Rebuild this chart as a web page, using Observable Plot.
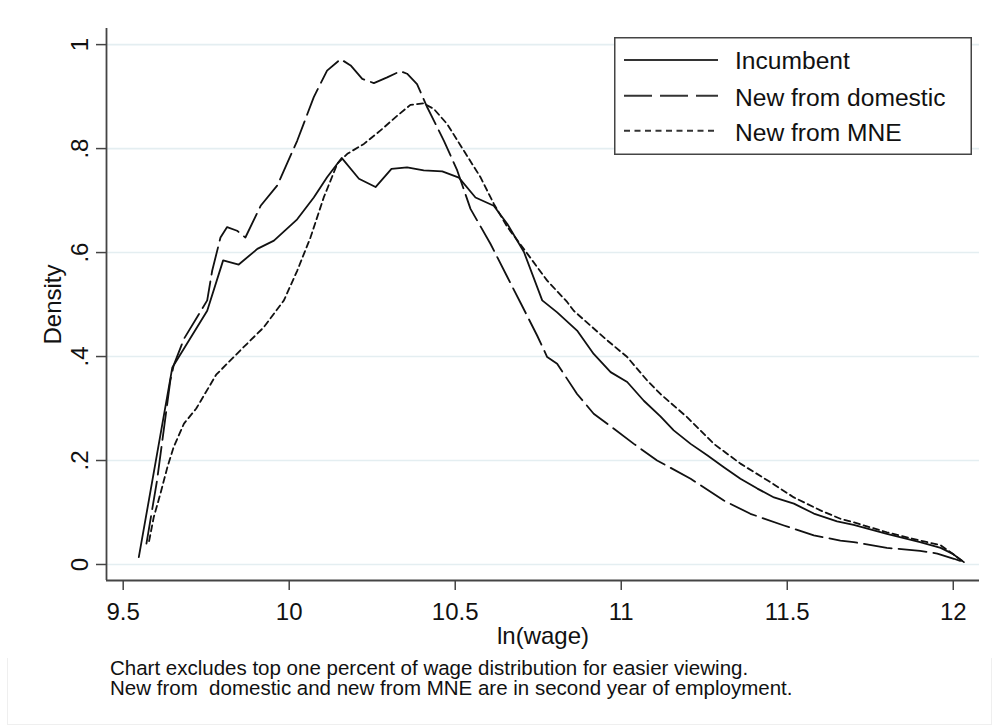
<!DOCTYPE html>
<html>
<head>
<meta charset="utf-8">
<script src="https://cdn.jsdelivr.net/npm/d3@7"></script>
<script src="https://cdn.jsdelivr.net/npm/@observablehq/plot@0.6"></script>
<style>
  body { margin: 0; background: #fff; font-family: "Liberation Sans", Arial, sans-serif; }
  #wrap { position: relative; width: 994px; height: 727px; overflow: hidden; background: #fff; }
  #border { position: absolute; left: 7px; top: 2px; width: 985px; height: 723px; border: 1px solid #efefef; box-sizing: border-box; }
  #chart { position: absolute; left: 0; top: 0; }
  #legend { position: absolute; left: 614px; top: 37px; }
  #caption { position: absolute; left: 110px; top: 658px; font-size: 20.5px; line-height: 20px; color: #111; white-space: pre; }
</style>
</head>
<body>
<div id="wrap">
  <div id="border"></div>
  <div id="chart"></div>
  <div id="legend"></div>
  <div id="caption"></div>
</div>
<script>
// ---- data ----
const incX = [9.547, 9.648, 9.753, 9.801, 9.848, 9.904, 9.954, 10.024, 10.074, 10.114, 10.158, 10.21, 10.26, 10.308, 10.355, 10.405, 10.461, 10.511, 10.561, 10.616, 10.657, 10.707, 10.762, 10.807, 10.867, 10.917, 10.968, 11.018, 11.068, 11.118, 11.158, 11.209, 11.259, 11.309, 11.359, 11.41, 11.46, 11.52, 11.58, 11.65, 11.70, 11.80, 11.90, 11.962, 11.997, 12.032];
const incY = [0.014, 0.379, 0.488, 0.585, 0.577, 0.607, 0.623, 0.664, 0.706, 0.745, 0.782, 0.742, 0.726, 0.761, 0.764, 0.758, 0.756, 0.744, 0.706, 0.690, 0.655, 0.601, 0.508, 0.485, 0.450, 0.405, 0.370, 0.351, 0.315, 0.285, 0.258, 0.232, 0.210, 0.187, 0.165, 0.146, 0.129, 0.117, 0.098, 0.083, 0.076, 0.059, 0.043, 0.032, 0.021, 0.0045];

const domX = [9.570, 9.602, 9.642, 9.652, 9.683, 9.753, 9.768, 9.793, 9.813, 9.843, 9.868, 9.914, 9.964, 10.024, 10.074, 10.114, 10.155, 10.185, 10.220, 10.255, 10.295, 10.335, 10.355, 10.385, 10.416, 10.466, 10.506, 10.546, 10.606, 10.657, 10.697, 10.747, 10.777, 10.807, 10.867, 10.917, 10.978, 11.038, 11.108, 11.209, 11.309, 11.389, 11.49, 11.58, 11.66, 11.70, 11.80, 11.90, 11.952, 12.002, 12.032];
const domY = [0.040, 0.162, 0.354, 0.383, 0.434, 0.508, 0.565, 0.629, 0.649, 0.642, 0.629, 0.690, 0.729, 0.815, 0.899, 0.950, 0.972, 0.960, 0.934, 0.926, 0.937, 0.949, 0.944, 0.924, 0.879, 0.815, 0.758, 0.684, 0.617, 0.553, 0.503, 0.440, 0.399, 0.386, 0.328, 0.290, 0.261, 0.232, 0.200, 0.165, 0.123, 0.0975, 0.075, 0.056, 0.046, 0.043, 0.032, 0.026, 0.021, 0.011, 0.0045];

const mneX = [9.578, 9.592, 9.612, 9.633, 9.652, 9.683, 9.72, 9.78, 9.853, 9.923, 9.984, 10.024, 10.064, 10.104, 10.145, 10.175, 10.225, 10.275, 10.325, 10.365, 10.405, 10.436, 10.476, 10.516, 10.576, 10.616, 10.657, 10.717, 10.777, 10.837, 10.857, 10.958, 11.018, 11.078, 11.118, 11.199, 11.279, 11.359, 11.44, 11.52, 11.60, 11.66, 11.70, 11.80, 11.90, 11.962, 11.997, 12.032];
const mneY = [0.045, 0.091, 0.136, 0.187, 0.226, 0.271, 0.300, 0.365, 0.412, 0.456, 0.508, 0.565, 0.629, 0.706, 0.771, 0.790, 0.809, 0.835, 0.863, 0.884, 0.887, 0.876, 0.847, 0.806, 0.745, 0.694, 0.649, 0.598, 0.546, 0.505, 0.488, 0.431, 0.399, 0.354, 0.328, 0.283, 0.232, 0.194, 0.162, 0.129, 0.104, 0.088, 0.081, 0.062, 0.046, 0.037, 0.021, 0.0045];

const seriesNames = ["Incumbent", "New from domestic", "New from MNE"];
const xTicks = [9.5, 10, 10.5, 11, 11.5, 12];
const xTickLabels = ["9.5", "10", "10.5", "11", "11.5", "12"];
const yTicks = [0, 0.2, 0.4, 0.6, 0.8, 1];
const yTickLabels = ["0", ".2", ".4", ".6", ".8", "1"];
const xTitle = "ln(wage)";
const yTitle = "Density";
const captionLines = [
  "Chart excludes top one percent of wage distribution for easier viewing.",
  "New from  domestic and new from MNE are in second year of employment."
];

const xDomain = [9.4497, 12.079];
const yDomain = [-0.0308, 1.031];

const rows = (xs, ys) => xs.map((x, i) => ({x, y: ys[i]}));
const inc = rows(incX, incY);
const dom = rows(domX, domY);
const mne = rows(mneX, mneY);

const ink = "#111";
const dashes = ["none", "28,7", "6,4"];

const chart = Plot.plot({
  width: 994,
  height: 658,
  marginLeft: 106,
  marginRight: 15,
  marginTop: 28,
  marginBottom: 78,
  style: {fontFamily: "Liberation Sans, Arial, sans-serif", background: "white", color: ink, overflow: "visible"},
  x: {domain: xDomain},
  y: {domain: yDomain},
  marks: [
    Plot.gridY(yTicks, {stroke: "#e4eef1", strokeOpacity: 1, strokeWidth: 1.6}),
    Plot.ruleX([xDomain[0]], {stroke: "#444", strokeWidth: 1.8}),
    Plot.ruleY([yDomain[0]], {stroke: "#444", strokeWidth: 1.8}),
    Plot.axisX(xTicks, {tickSize: 10, tickPadding: 12, fontSize: 24, tickFormat: (d) => xTickLabels[xTicks.indexOf(d)], label: null, stroke: "#444", strokeWidth: 1.5, fill: ink}),
    Plot.axisY(yTicks, {tickSize: 10, tickFormat: () => "", label: null, stroke: "#444", strokeWidth: 1.5}),
    Plot.text(yTicks, {y: d => d, text: (d, i) => yTickLabels[i], frameAnchor: "left", dx: -19, rotate: -90, textAnchor: "middle", lineAnchor: "bottom", fontSize: 24, fill: ink}),
    Plot.text([xTitle], {text: d => d, frameAnchor: "bottom", dy: 63, lineAnchor: "bottom", fontSize: 24, fill: ink}),
    Plot.text([yTitle], {text: d => d, frameAnchor: "left", dx: -46, rotate: -90, textAnchor: "middle", lineAnchor: "bottom", fontSize: 24, fill: ink}),
    Plot.line(mne, {x: "x", y: "y", stroke: ink, strokeWidth: 1.8, strokeDasharray: dashes[2]}),
    Plot.line(dom, {x: "x", y: "y", stroke: ink, strokeWidth: 1.8, strokeDasharray: dashes[1]}),
    Plot.line(inc, {x: "x", y: "y", stroke: ink, strokeWidth: 1.8})
  ]
});
document.getElementById("chart").appendChild(chart);

// legend
const lg = d3.select("#legend").append("svg").attr("width", 358).attr("height", 118)
  .style("font-family", "Liberation Sans, Arial, sans-serif");
lg.append("rect").attr("x", 0.75).attr("y", 0.75).attr("width", 356.5).attr("height", 116.5)
  .attr("fill", "white").attr("stroke", "#444").attr("stroke-width", 1.5);
const rowY = [23, 58.7, 93.7];
const baseY = [32, 69, 104];
seriesNames.forEach((name, i) => {
  lg.append("line").attr("x1", 10).attr("x2", 104).attr("y1", rowY[i]).attr("y2", rowY[i])
    .attr("stroke", "#333").attr("stroke-width", 2)
    .attr("stroke-dasharray", i === 1 ? "28,8" : i === 2 ? "6,4.5" : null);
  lg.append("text").attr("x", 121).attr("y", baseY[i]).attr("font-size", 24.6).attr("fill", ink).text(name);
});

document.getElementById("caption").textContent = captionLines.join("\n");
</script>
</body>
</html>
